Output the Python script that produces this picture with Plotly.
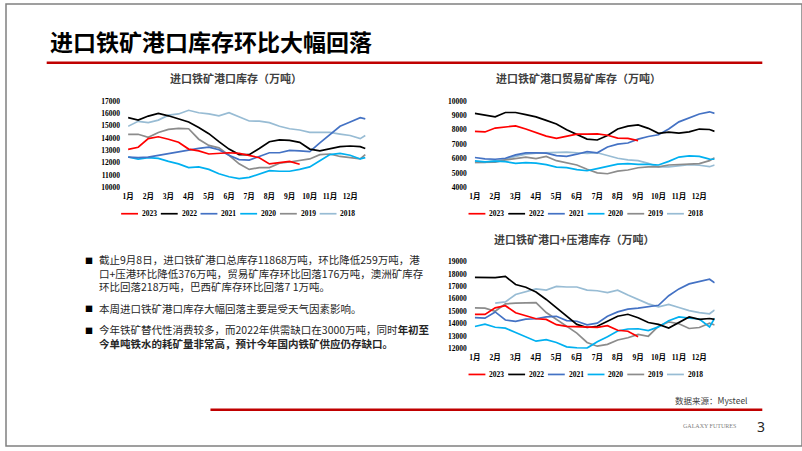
import plotly.graph_objects as go

W, H = 802, 451

MONTHS = [1, 1.5, 2, 2.5, 3, 3.5, 4, 4.5, 5, 5.5, 6, 6.5, 7, 7.5, 8, 8.5, 9, 9.5,
          10, 10.5, 11, 11.5, 12, 12.5, 12.75]
MONTH_TICKS = list(range(1, 13))
MONTH_LABELS = ["1月", "2月", "3月", "4月", "5月", "6月", "7月", "8月", "9月", "10月", "11月", "12月"]
YEARS = ["2023", "2022", "2021", "2020", "2019", "2018"]

# Chart 1: 进口铁矿港口库存（万吨）
PORT_2023 = [13080, 13250, 13950, 14100, 13900, 13650, 13100, 12950, 12700, 12750, 12800, 12750,
             12600, 12400, 11900, 12000, 12100, 11870]
PORT_2022 = [15650, 15450, 15780, 16000, 15800, 15550, 15300, 14850, 14350, 13700, 13100, 12650,
             12650, 13150, 13700, 13850, 13800, 13650, 13100, 12950, 13150, 13300, 13350, 13300, 13150]
PORT_2021 = [12450, 12400, 12450, 12600, 12700, 12900, 13050, 13150, 13250, 13050, 12600, 12250,
             12200, 12500, 12800, 12800, 13000, 12950, 12900, 13600, 14300, 14950, 15300, 15650, 15550]
PORT_2020 = [12460, 12280, 12400, 12350, 12100, 11900, 11600, 11650, 11450, 11100, 10850, 10700,
             10800, 11100, 11350, 11300, 11300, 11450, 11650, 12150, 12650, 12750, 12600, 12300, 12400]
PORT_2019 = [14300, 14300, 14050, 14450, 14700, 14780, 14750, 13900, 13400, 13200, 12600, 11900,
             11450, 11600, 11600, 11950, 12050, 12200, 12300, 12650, 12700, 12500, 12400, 12300, 12650]
PORT_2018 = [14950, 15350, 15250, 15450, 15850, 15950, 16250, 16050, 15950, 15800, 16050, 15700,
             15380, 15370, 15250, 14950, 14750, 14650, 14450, 14450, 14450, 14320, 14200, 13950, 14200]
PORT_TICKS = [10000, 11000, 12000, 13000, 14000, 15000, 16000, 17000]

# Chart 2: 进口铁矿港口贸易矿库存（万吨）
TRADE_2023 = [7890, 7850, 8120, 8200, 8270, 8050, 7800, 7560, 7400, 7550, 7700, 7700, 7720, 7620,
              7420, 7400, 7250]
TRADE_2022 = [9140, 9000, 8900, 9200, 9200, 9050, 8900, 8650, 8400, 8000, 7650, 7350, 7290, 7600,
              8050, 8250, 8340, 8100, 7750, 7830, 7770, 7850, 8050, 8020, 7890]
TRADE_2021 = [6070, 5980, 5950, 6020, 6250, 6390, 6390, 6380, 6200, 6150, 6300, 6480, 6400, 6800,
              7000, 7080, 7350, 7530, 7650, 8050, 8550, 8850, 9100, 9250, 9140]
TRADE_2020 = [5840, 5770, 5820, 5780, 5660, 5720, 5680, 5580, 5400, 5370, 5230, 5150, 5300, 5450,
              5610, 5650, 5590, 5590, 5550, 5800, 6100, 6180, 6150, 5960, 5950]
TRADE_2019 = [5730, 5760, 5750, 5900, 6000, 6100, 6000, 6150, 5850, 5700, 5550, 5250, 5000, 4940,
              5120, 5200, 5360, 5420, 5420, 5550, 5600, 5610, 5650, 5850, 6050]
TRADE_2018 = [5730, 5730, 5850, 5950, 6150, 6300, 6370, 6400, 6420, 6450, 6400, 6350, 6400, 6220,
              6020, 5900, 5850, 5660, 5420, 5420, 5520, 5580, 5530, 5430, 5550]
TRADE_TICKS = [4000, 5000, 6000, 7000, 8000, 9000, 10000]

# Chart 3: 进口铁矿港口+压港库存（万吨）
TOTAL_2023 = [14750, 14750, 15280, 15450, 14880, 14650, 14400, 14350, 13930, 13790, 13750, 13770,
              13710, 13850, 13480, 13400, 12950]
TOTAL_2022 = [17720, 17700, 17700, 17800, 17150, 16930, 16550, 15950, 15300, 14580, 13950, 13700,
              13800, 14200, 14600, 14760, 14480, 14100, 13950, 13650, 14100, 14550, 14350, 14420, 14350]
TOTAL_2021 = [14500, 14450, 14950, 14300, 14200, 14370, 14400, 14550, 14600, 14250, 14200, 13920,
              14050, 14600, 14950, 15170, 15260, 15350, 15480, 16250, 16800, 17200, 17380, 17570, 17280]
TOTAL_2020 = [13780, 13970, 13720, 13650, 13300, 12950, 12600, 12720, 12500, 12150, 12060, 12050,
              12550, 12950, 13420, 13580, 13600, 13450, 13750, 14250, 14550, 14450, 14380, 13750, 14450]
TOTAL_2019 = [15280, 15250, 15000, 15600, 15650, 15650, 15700, 14900, 14350, 13850, 13250, 12500,
              12200, 12350, 12700, 12880, 13150, 13000, 13800, 14150, 14000, 13620, 13700, 14050, 13900]
TOTAL_2018 = [None, None, 15650, 15750, 16350, 16600, 16800, 16700, 17000, 16950, 16950, 16700,
              16650, 16500, 16700, 16300, 15950, 15600, 15350, 15550, 15300, 15050, 14900, 14800, 15100]
TOTAL_TICKS = [12000, 13000, 14000, 15000, 16000, 17000, 18000, 19000]

COLORS = {"2023": "#FF0000", "2022": "#000000", "2021": "#4472C4",
          "2020": "#00B0F0", "2019": "#8C8C8C", "2018": "#98BCD4"}

CHARTS = [
    dict(ax="", title="进口铁矿港口库存（万吨）", ticks=PORT_TICKS,
         series={"2023": PORT_2023, "2022": PORT_2022, "2021": PORT_2021,
                 "2020": PORT_2020, "2019": PORT_2019, "2018": PORT_2018},
         xdom=(123, 363), ydom=(99, 187), xmax=12.8, title_xy=(232, 75), leg_xy=(116, 214)),
    dict(ax="2", title="进口铁矿港口贸易矿库存（万吨）", ticks=TRADE_TICKS,
         series={"2023": TRADE_2023, "2022": TRADE_2022, "2021": TRADE_2021,
                 "2020": TRADE_2020, "2019": TRADE_2019, "2018": TRADE_2018},
         xdom=(472.3, 714), ydom=(99, 187), xmax=12.75, title_xy=(577, 75), leg_xy=(466, 214)),
    dict(ax="3", title="进口铁矿港口+压港库存（万吨）", ticks=TOTAL_TICKS,
         series={"2023": TOTAL_2023, "2022": TOTAL_2022, "2021": TOTAL_2021,
                 "2020": TOTAL_2020, "2019": TOTAL_2019, "2018": TOTAL_2018},
         xdom=(472.3, 714), ydom=(262.7, 351.7), xmax=12.75, title_xy=(573, 240), leg_xy=(466, 378)),
]


def px(x):
    return x / W


def py(y):
    return 1 - y / H


CJK = "Noto Sans CJK SC"
SERIF = "Liberation Serif, Noto Sans CJK SC"

fig = go.Figure()
annotations = []
shapes = []

for c in CHARTS:
    ax = c["ax"]
    for yr in reversed(YEARS):
        vals = c["series"][yr]
        fig.add_trace(go.Scatter(
            x=MONTHS[:len(vals)], y=vals, mode="lines", name=yr,
            line=dict(color=COLORS[yr], width=1.7),
            xaxis="x" + ax, yaxis="y" + ax, showlegend=False, hoverinfo="skip"))
    fig.layout["xaxis" + ax] = dict(
        domain=[px(c["xdom"][0]), px(c["xdom"][1])], anchor="y" + ax,
        range=[1, c["xmax"]], tickmode="array", tickvals=MONTH_TICKS, ticktext=MONTH_LABELS,
        showgrid=False, zeroline=False, showline=False, ticks="", ticklabelstandoff=3,
        tickfont=dict(family=SERIF, size=7.5, color="#000000", weight="bold"), fixedrange=True)
    fig.layout["yaxis" + ax] = dict(
        domain=[py(c["ydom"][1]), py(c["ydom"][0])], anchor="x" + ax,
        range=[c["ticks"][0], c["ticks"][-1]], tickmode="array", tickvals=c["ticks"],
        tickformat="d",
        showgrid=False, zeroline=False, showline=False, ticks="", ticklabelstandoff=7,
        tickfont=dict(family=SERIF, size=7.5, color="#000000", weight="bold"), fixedrange=True)
    annotations.append(dict(
        x=px(c["title_xy"][0]), y=py(c["title_xy"][1]), xref="paper", yref="paper",
        text="<b>" + c["title"] + "</b>", showarrow=False, xanchor="center", yanchor="middle",
        font=dict(family=CJK, size=11, color="#404040")))
    lx, ly = c["leg_xy"]
    for i, yr in enumerate(YEARS):
        x0 = lx + i * 40
        shapes.append(dict(type="line", xref="paper", yref="paper",
                           x0=px(x0), x1=px(x0 + 17), y0=py(ly), y1=py(ly),
                           line=dict(color=COLORS[yr], width=1.7)))
        annotations.append(dict(
            x=px(x0 + 19), y=py(ly), xref="paper", yref="paper", text="<b>" + yr + "</b>",
            showarrow=False, xanchor="left", yanchor="middle",
            font=dict(family=SERIF, size=7.5, color="#000000")))

# slide frame and rules
shapes.append(dict(type="rect", xref="paper", yref="paper", x0=0, x1=1, y0=0, y1=1,
                   line=dict(color="#808080", width=1.5)))
shapes.append(dict(type="line", xref="paper", yref="paper", x0=px(41), x1=px(762),
                   y0=py(60), y1=py(60), line=dict(color="#C00000", width=2.5)))
shapes.append(dict(type="line", xref="paper", yref="paper", x0=px(206), x1=px(762),
                   y0=py(414), y1=py(414), line=dict(color="#C00000", width=2.5)))

annotations.append(dict(x=px(207), y=py(38), xref="paper", yref="paper",
                        text="<b>进口铁矿港口库存环比大幅回落</b>", showarrow=False,
                        xanchor="center", yanchor="middle",
                        font=dict(family=CJK, size=23, color="#000000")))

BULLETS = [
    (274.1, "截止9月8日，进口铁矿港口总库存11868万吨，环比降低259万吨，港<br>"
            "口+压港环比降低376万吨，贸易矿库存环比回落176万吨，澳洲矿库存<br>"
            "环比回落218万吨，巴西矿库存环比回落7 1万吨。", 261.7),
    (310.7, "本周进口铁矿港口库存大幅回落主要是受天气因素影响。", 310.7),
    (339.7, "今年铁矿替代性消费较多，而2022年供需缺口在3000万吨，同时<b>年初至</b><br>"
            "<b>今单吨铁水的耗矿量非常高，预计今年国内铁矿供应仍存缺口。</b>", 333.3),
]
for yc, txt, ybul in BULLETS:
    annotations.append(dict(x=px(92), y=py(yc), xref="paper", yref="paper", text=txt,
                            showarrow=False, xanchor="left", yanchor="middle", align="left",
                            font=dict(family=CJK, size=10.5, color="#262626")))
    annotations.append(dict(x=px(78), y=py(ybul), xref="paper", yref="paper", text="■",
                            showarrow=False, xanchor="left", yanchor="middle",
                            font=dict(family=CJK, size=8, color="#000000")))

annotations.append(dict(x=px(710.5), y=py(404), xref="paper", yref="paper", text="数据来源：Mysteel",
                        showarrow=False, xanchor="center", yanchor="middle",
                        font=dict(family=CJK, size=8.5, color="#404040")))
annotations.append(dict(x=px(709), y=py(431), xref="paper", yref="paper", text="GALAXY FUTURES",
                        showarrow=False, xanchor="center", yanchor="middle",
                        font=dict(family="Liberation Serif", size=6, color="#808080")))
annotations.append(dict(x=px(761), y=py(431), xref="paper", yref="paper", text="3",
                        showarrow=False, xanchor="center", yanchor="middle",
                        font=dict(family="Noto Sans", size=14, color="#262626")))

fig.update_layout(width=W, height=H, margin=dict(l=0, r=0, t=0, b=0),
                  paper_bgcolor="white", plot_bgcolor="white",
                  annotations=annotations, shapes=shapes, showlegend=False)

fig.write_html("out.html", config={"displayModeBar": False},
               post_script="document.body.style.margin='0';")
